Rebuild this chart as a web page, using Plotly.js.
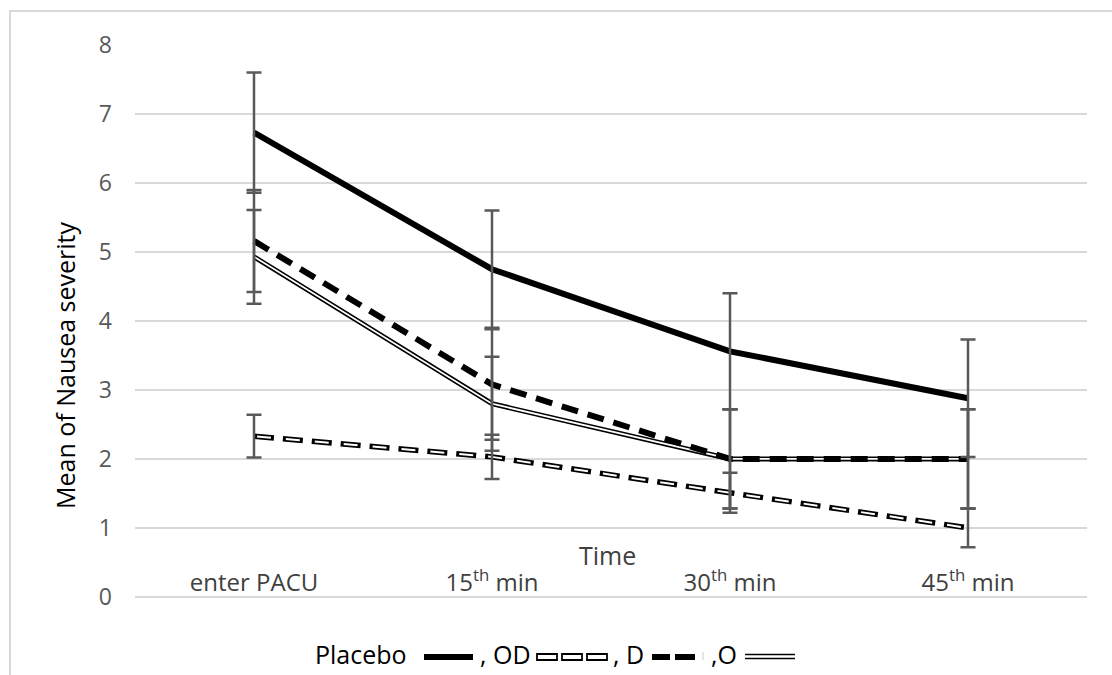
<!DOCTYPE html>
<html>
<head>
<meta charset="utf-8">
<script src="https://cdn.plot.ly/plotly-3.0.1.min.js"></script>
<style>html,body{margin:0;padding:0;background:#fff;}#chart{width:1112px;height:675px;}</style>
</head>
<body>
<div id="chart"></div>
<script>
// ---- data ----
var categories = ['enter PACU', '15<sup>th</sup> min', '30<sup>th</sup> min', '45<sup>th</sup> min'];
var placebo    = [6.73, 4.75, 3.56, 2.88];
var placeboErr = [0.87, 0.85, 0.84, 0.85];
var od         = [2.33, 2.03, 1.51, 1.00];
var odErr      = [0.31, 0.32, 0.29, 0.28];
var dGroup     = [5.16, 3.08, 2.00, 2.00];
var dErr       = [0.74, 0.80, 0.72, 0.72];
var oGroup     = [4.93, 2.80, 2.00, 2.00];
var oErr       = [0.68, 0.68, 0.72, 0.72];
var yTicks     = [0, 1, 2, 3, 4, 5, 6, 7, 8];

// ---- layout geometry ----
var W = 1112, H = 675, ML = 135, MR = 25, MT = 45, MB = 76;
var PW = W - ML - MR, PH = H - MT - MB;
function px(x) { return (x - ML) / PW; }
function py(y) { return (MT + PH - y) / PH; }

var FONT = 'Open Sans, Noto Sans, sans-serif';
var ERRC = '#595959';

function lineTrace(y, color, width, dash) {
  return {x: categories, y: y, type: 'scatter', mode: 'lines', showlegend: false, hoverinfo: 'skip',
          line: {color: color, width: width, dash: dash || 'solid'}};
}
function errTrace(y, err) {
  return {x: categories, y: y, type: 'scatter', mode: 'markers', showlegend: false, hoverinfo: 'skip',
          marker: {size: 1, color: 'rgba(0,0,0,0)'},
          error_y: {type: 'data', array: err, visible: true, color: ERRC, thickness: 2.5, width: 7.5}};
}

var traces = [
  lineTrace(placebo, '#000', 6),
  lineTrace(od, '#000', 5.5, '20px,9px'),
  lineTrace(od, '#fff', 2, '0px,3px,14px,12px'),
  lineTrace(oGroup, '#000', 5),
  lineTrace(oGroup, '#fff', 1.8),
  lineTrace(dGroup, '#000', 6, '17px,10px'),
  errTrace(placebo, placeboErr),
  errTrace(od, odErr),
  errTrace(dGroup, dErr),
  errTrace(oGroup, oErr)
];
traces[0].name = 'Placebo'; traces[1].name = 'OD'; traces[3].name = 'O'; traces[5].name = 'D';

// legend glyphs (decorative, in pixel positions converted to paper)
var shapes = [
  {type: 'rect', xref: 'paper', yref: 'paper', x0: px(10), x1: px(1130), y0: py(720), y1: py(11),
   line: {color: '#d9d9d9', width: 2}, fillcolor: 'rgba(0,0,0,0)', layer: 'below'},
  // Placebo
  {type: 'rect', xref: 'paper', yref: 'paper', x0: px(424), x1: px(473), y0: py(660), y1: py(654),
   line: {width: 0}, fillcolor: '#000'},
  // D dashes
  {type: 'rect', xref: 'paper', yref: 'paper', x0: px(652), x1: px(670), y0: py(660), y1: py(654),
   line: {width: 0}, fillcolor: '#000'},
  {type: 'rect', xref: 'paper', yref: 'paper', x0: px(675), x1: px(695), y0: py(660), y1: py(654),
   line: {width: 0}, fillcolor: '#000'},
  {type: 'line', xref: 'paper', yref: 'paper', x0: px(703), x1: px(703), y0: py(652), y1: py(660),
   line: {color: '#cccccc', width: 1}},
  // O double line
  {type: 'line', xref: 'paper', yref: 'paper', x0: px(745), x1: px(795), y0: py(654.5), y1: py(654.5),
   line: {color: '#000', width: 1.6}},
  {type: 'line', xref: 'paper', yref: 'paper', x0: px(745), x1: px(795), y0: py(658.5), y1: py(658.5),
   line: {color: '#000', width: 1.6}}
];
[537, 562, 587].forEach(function (x0) {
  shapes.push({type: 'rect', xref: 'paper', yref: 'paper', x0: px(x0), x1: px(x0 + 20), y0: py(660), y1: py(654),
               line: {color: '#000', width: 1.8}, fillcolor: '#fff'});
});

var annotations = [
  {text: 'Mean of Nausea severity', xref: 'paper', yref: 'paper', x: px(65), y: py(366), textangle: -90,
   showarrow: false, font: {family: FONT, size: 25, color: '#000'}, xanchor: 'center', yanchor: 'middle'},
  {text: 'Time', xref: 'paper', yref: 'paper', x: px(607), y: py(555), showarrow: false,
   font: {family: FONT, size: 25, color: '#404040'}, xanchor: 'center', yanchor: 'middle'},
  {text: 'Placebo', xref: 'paper', yref: 'paper', x: px(313), y: py(654), showarrow: false,
   font: {family: FONT, size: 25, color: '#000'}, xanchor: 'left', yanchor: 'middle'},
  {text: ', OD', xref: 'paper', yref: 'paper', x: px(478), y: py(654), showarrow: false,
   font: {family: FONT, size: 25, color: '#000'}, xanchor: 'left', yanchor: 'middle'},
  {text: ', D', xref: 'paper', yref: 'paper', x: px(611), y: py(654), showarrow: false,
   font: {family: FONT, size: 25, color: '#000'}, xanchor: 'left', yanchor: 'middle'},
  {text: ',O', xref: 'paper', yref: 'paper', x: px(709), y: py(654), showarrow: false,
   font: {family: FONT, size: 25, color: '#000'}, xanchor: 'left', yanchor: 'middle'}
];

var layout = {
  width: W, height: H,
  margin: {l: ML, r: MR, t: MT, b: MB, pad: 0},
  paper_bgcolor: '#fff', plot_bgcolor: '#fff',
  font: {family: FONT},
  showlegend: false,
  xaxis: {type: 'category', range: [-0.5, 3.5], showgrid: false, zeroline: false, showline: false,
          anchor: 'free', position: py(566), ticks: '',
          tickfont: {family: FONT, size: 24, color: '#404040'}, automargin: false, fixedrange: true},
  yaxis: {range: [-0.03, 8], tickvals: yTicks, showgrid: true, gridcolor: '#d9d9d9', gridwidth: 1.6,
          zeroline: false, showline: false, ticks: '', ticklabelstandoff: 22,
          tickfont: {family: FONT, size: 23, color: '#595959'}, automargin: false, fixedrange: true},
  shapes: shapes,
  annotations: annotations
};

Plotly.newPlot('chart', traces, layout, {displayModeBar: false, staticPlot: true});
</script>
</body>
</html>
